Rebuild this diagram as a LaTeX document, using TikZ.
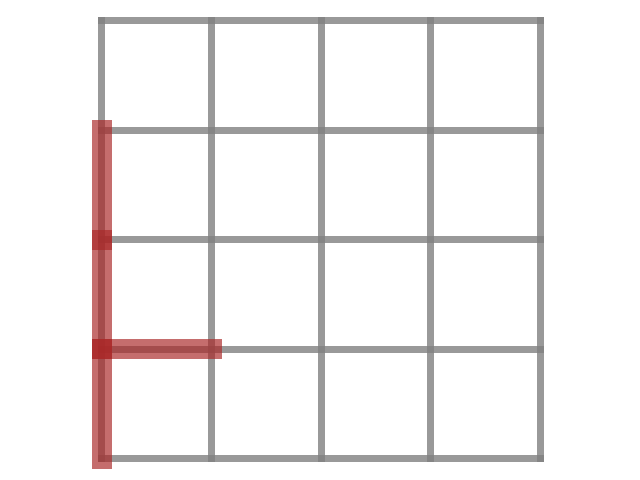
\documentclass[tikz,border=0pt]{standalone}
\begin{document}
\begin{tikzpicture}[x=109.5pt,y=109.5pt,
  gridline/.style={draw=black!50, draw opacity=0.8, line width=7pt, line cap=rect},
  pathline/.style={draw=firebrick, draw opacity=0.68, line width=20pt, line cap=rect}]
\definecolor{firebrick}{RGB}{170,40,40}
\useasboundingbox (-0.93151,-0.19178) rectangle (4.91324,4.19178);
\foreach \i in {0,...,4} {
  \draw[gridline] (\i,0) -- (\i,4);
  \draw[gridline] (0,\i) -- (4,\i);
}
\coordinate (p0) at (0,3);
\coordinate (p1) at (0,2);
\coordinate (p2) at (0,1);
\coordinate (p3) at (0,0);
\coordinate (p4) at (1,1);
\draw[pathline] (p0) -- (p1);
\draw[pathline] (p1) -- (p2);
\draw[pathline] (p2) -- (p3);
\draw[pathline] (p2) -- (p4);
\end{tikzpicture}
\end{document}
